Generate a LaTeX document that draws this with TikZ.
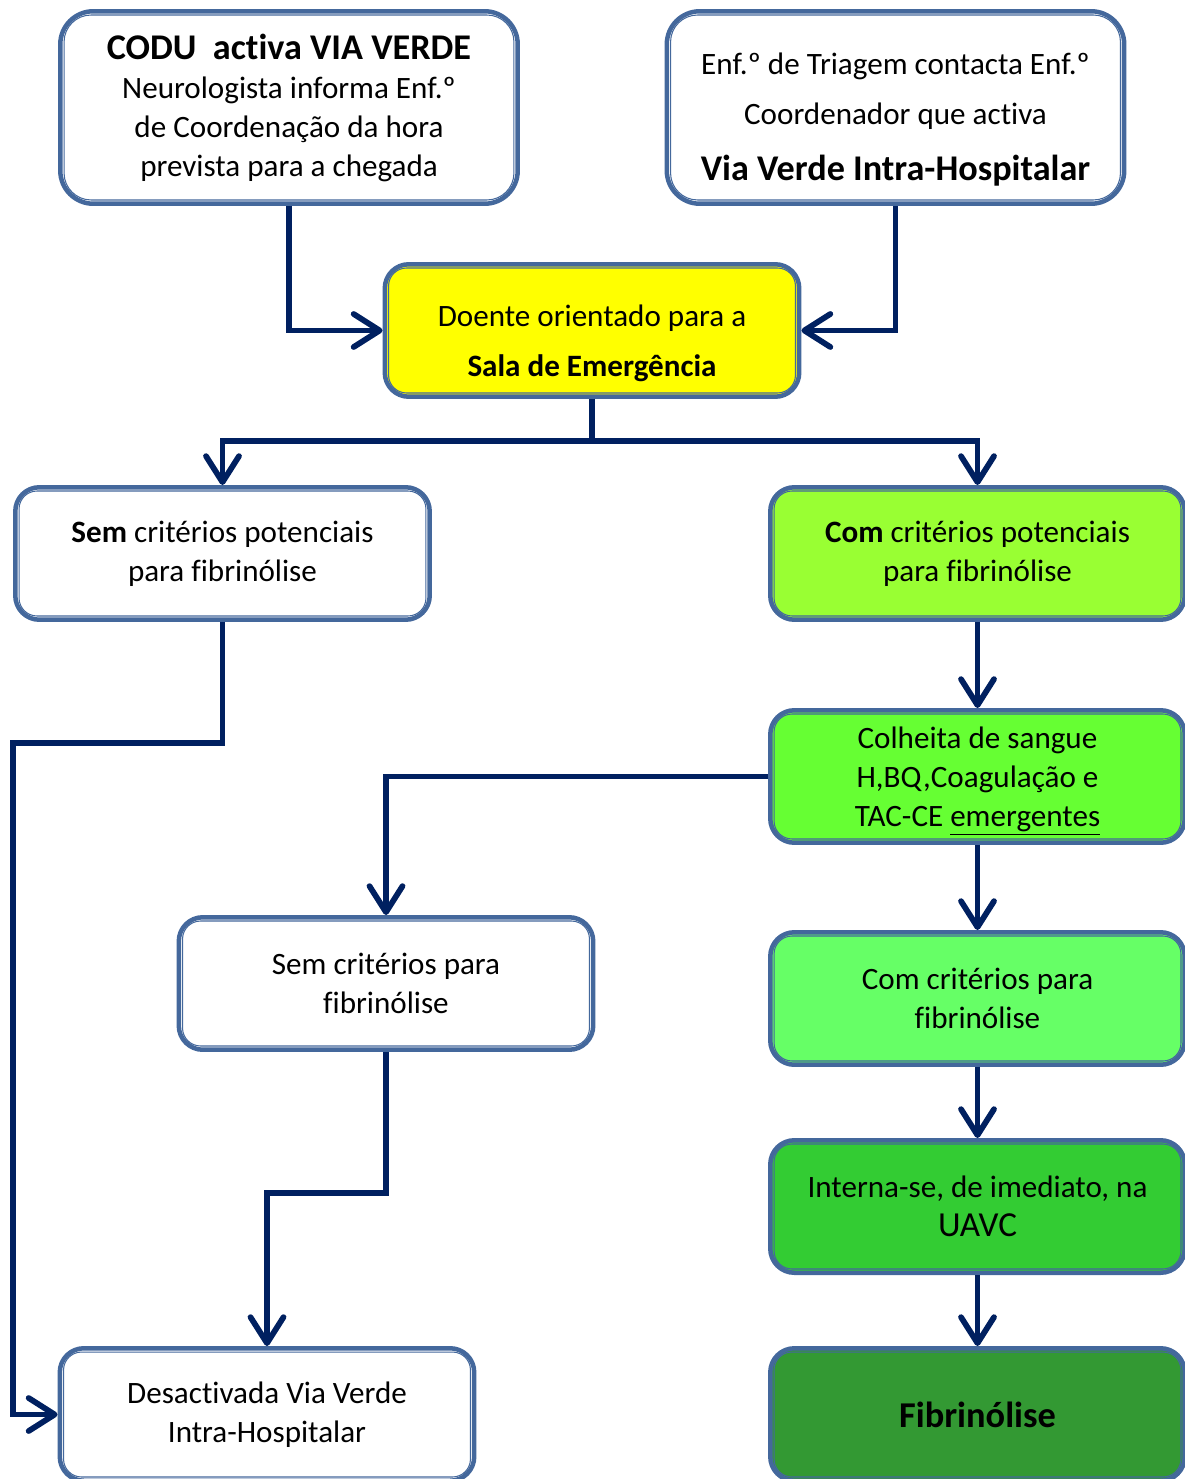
\documentclass[tikz,border=0pt]{standalone}
\usepackage{fontspec}
\setmainfont{Carlito}[Ligatures = NoCommon]
\usetikzlibrary{arrows.meta}
\definecolor{mframe}{RGB}{68, 104, 156}
\definecolor{mnavy}{RGB}{0, 32, 96}
\definecolor{myellow}{RGB}{255, 255, 0}
\definecolor{mlime}{RGB}{153, 255, 51}
\definecolor{mgreenA}{RGB}{102, 255, 51}
\definecolor{mgreenB}{RGB}{102, 255, 102}
\definecolor{mgreenC}{RGB}{51, 204, 51}
\definecolor{mgreenD}{RGB}{51, 153, 51}
\tikzset{box/.style = {draw = mframe, fill = white, line width = 0.09cm,
                       rounded corners = 0.48cm, inner sep = 0pt, align = center,
                       minimum width = 8.29cm, minimum height = 2.65cm,
                       font = \fontsize{17.7}{22.2}\selectfont},
         bigbox/.style = {box, minimum width = 9.15cm, minimum height = 3.85cm,
                          rounded corners = 0.66cm},
         rim/.style = {draw = mframe, line width = 0.6pt},
         flow/.style = {draw = mnavy, line width = 0.115cm,
                        -{Straight Barb[length = 0.52cm, width = 0.66cm, round]}}}

\begin{document}
\begin{tikzpicture}[x = 0.02cm, y = -0.02cm]
      \useasboundingbox (0, 0) rectangle (1185, 1479);

      \node [bigbox] (codu) at (289, 107.5)
            {{\fontsize{20.6}{24}\bfseries CODU\ \ activa VIA VERDE}\\
             Neurologista informa Enf.º\\ de Coordenação da hora\\ prevista para a chegada};
      \node [bigbox] (enf) at (895.5, 107.5)
            {\rule{0pt}{26pt}Enf.º de Triagem contacta Enf.º\\[6.2pt] Coordenador que activa\\[9.5pt]
             {\fontsize{20.6}{24}\bfseries Via Verde Intra-Hospitalar}};
      \node [box, fill = myellow] (sala) at (592, 330.5)
            {\rule{0pt}{27pt}Doente orientado para a\\[6.2pt] \textbf{Sala de Emergência}};

      \node [box] (sempot) at (222.5, 553.5) {\textbf{Sem} critérios potenciais\\ para fibrinólise};
      \node [box, fill = mlime] (compot) at (977.5, 553.5) {\textbf{Com} critérios potenciais\\ para fibrinólise};
      \node [box, fill = mgreenA] (colheita) at (977.5, 776.5)
            {Colheita de sangue\\ H,BQ,Coagulação e\\ TAC-CE \smash{\underline{emergentes}}};
      \node [box] (sempara) at (386, 983.5) {Sem critérios para\\ fibrinólise};
      \node [box, fill = mgreenB] (compara) at (977.5, 998.5) {Com critérios para\\ fibrinólise};
      \node [box, fill = mgreenC] (interna) at (977.5, 1206.5)
            {Interna-se, de imediato, na\\ {\fontsize{20}{24}\selectfont UAVC}};
      \node [box, fill = mgreenD] (fibrin) at (977.5, 1414.5) {\fontsize{20.7}{24}\bfseries Fibrinólise};
      \node [box] (desact) at (267, 1414.5) {Desactivada Via Verde\\ Intra-Hospitalar};

      % inner line of the double frames
      \foreach \n/\r in {codu/0.54cm, enf/0.54cm, sala/0.36cm, sempot/0.36cm, compot/0.36cm,
                         colheita/0.36cm, sempara/0.36cm, compara/0.36cm, interna/0.36cm,
                         fibrin/0.36cm, desact/0.36cm}
            \draw [rim, rounded corners = \r] ([shift = {(0.12cm, -0.12cm)}]\n.north west)
                  rectangle ([shift = {(-0.12cm, 0.12cm)}]\n.south east);

      \coordinate (fork) at (592, 441);
      \coordinate (rail) at (13, 743);
      \coordinate (drop) at (267, 1193);

      \draw [flow] (codu.south) |- (sala.west);
      \draw [flow] (enf.south) |- (sala.east);
      \draw [flow] (sala.south) -- (fork) -| (sempot.north);
      \draw [flow] (sala.south) -- (fork) -| (compot.north);
      \draw [flow] (sempot.south) |- (rail) |- (desact.west);
      \draw [flow] (compot.south) -- (colheita.north);
      \draw [flow] (colheita.west) -| (sempara.north);
      \draw [flow] (colheita.south) -- (compara.north);
      \draw [flow] (sempara.south) |- (drop) -- (desact.north);
      \draw [flow] (compara.south) -- (interna.north);
      \draw [flow] (interna.south) -- (fibrin.north);
\end{tikzpicture}
\end{document}
